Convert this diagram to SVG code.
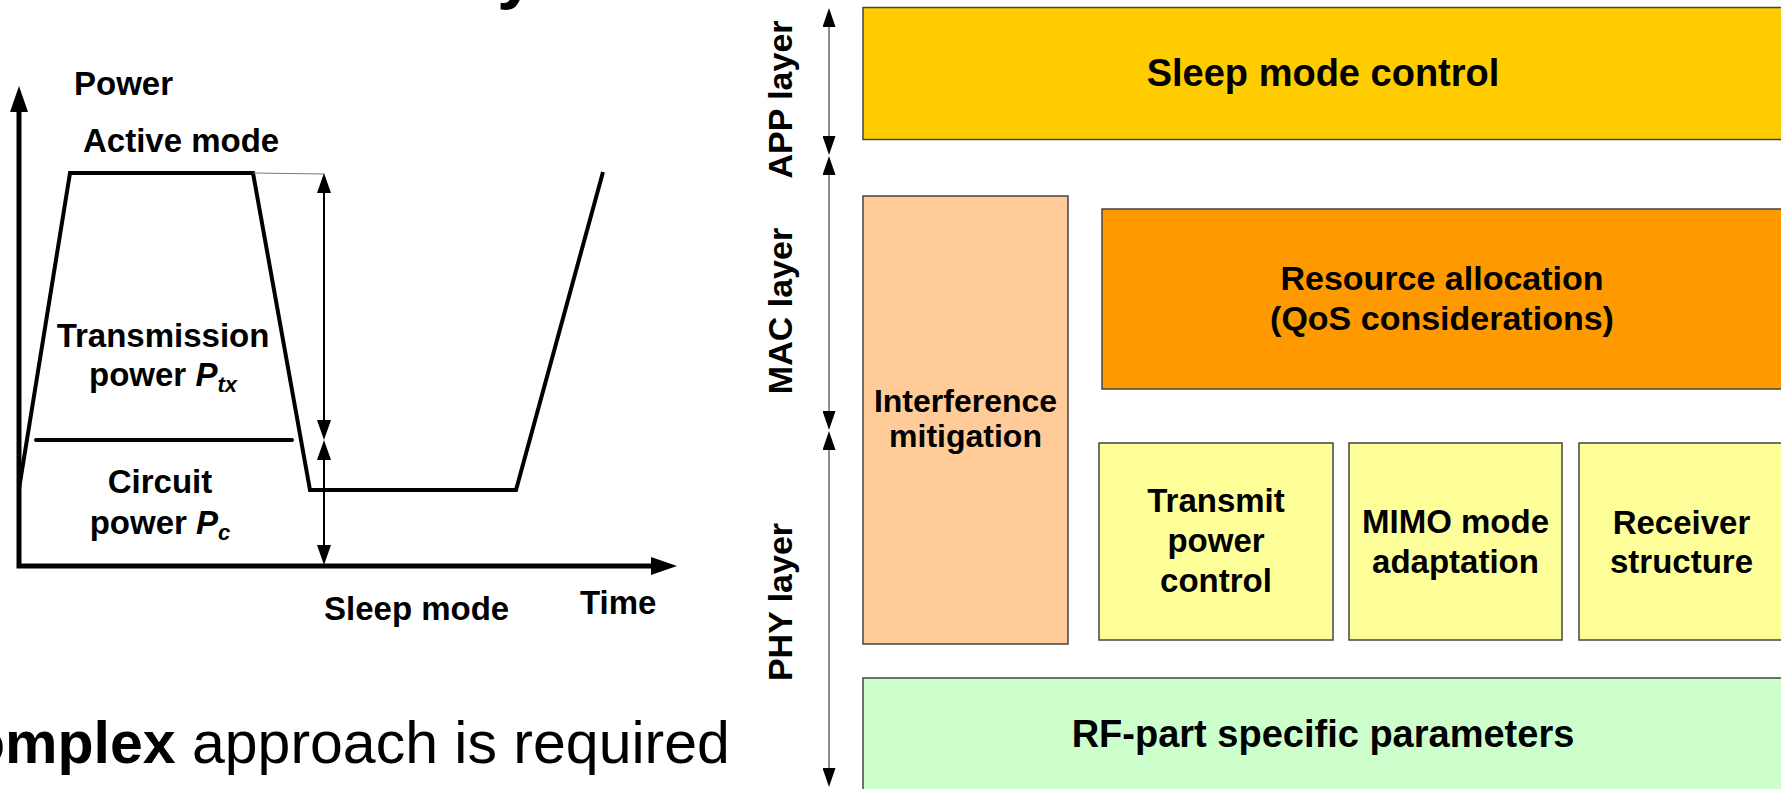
<svg xmlns="http://www.w3.org/2000/svg" width="1781" height="789" viewBox="0 0 1781 789">
  <style>
    text { font-family: "Liberation Sans", Arial, sans-serif; font-weight: bold; fill: #000; }
    .lbl { font-size: 33px; }
    .mid { text-anchor: middle; }
    .big { font-size: 38px; }
    .box { stroke: #444; stroke-width: 1.5; }
    .curve { fill: none; stroke: #000; stroke-width: 4; stroke-linejoin: miter; }
    .axis { fill: none; stroke: #000; stroke-width: 5; stroke-linejoin: miter; }
    .dim { stroke: #000; stroke-width: 2; }
    .layer { stroke: #666; stroke-width: 1.5; }
  </style>
  <defs>
    <marker id="ah-axis" viewBox="0 0 26 18" refX="10" refY="9" markerWidth="26" markerHeight="18" markerUnits="userSpaceOnUse" orient="auto-start-reverse">
      <path d="M0,0 L26,9 L0,18 z" fill="#000"/>
    </marker>
    <marker id="ah-dim" viewBox="0 0 20 14" refX="16" refY="7" markerWidth="20" markerHeight="14" markerUnits="userSpaceOnUse" orient="auto-start-reverse">
      <path d="M0,0 L20,7 L0,14 z" fill="#000"/>
    </marker>
    <marker id="ah-layer" viewBox="0 0 19 13" refX="16" refY="6.5" markerWidth="19" markerHeight="13" markerUnits="userSpaceOnUse" orient="auto-start-reverse">
      <path d="M0,0 L19,6.5 L0,13 z" fill="#000"/>
    </marker>
  </defs>

  <rect width="1781" height="789" fill="#fff"/>

  <!-- clipped tail of the slide heading above -->
  <text x="497" y="-5" style="font-size:70px">y</text>

  <!-- power profile over time -->
  <g id="power-chart">
    <path class="axis" d="M19,102 L19,566 L661,566" marker-start="url(#ah-axis)" marker-end="url(#ah-axis)"/>
    <polyline class="curve" points="19,489 70,173 253,173 310,490 516,490 603,172"/>
    <line x1="36" y1="440" x2="292" y2="440" stroke="#000" stroke-width="4" stroke-linecap="round"/>
    <line x1="253" y1="173" x2="324" y2="174" stroke="#777" stroke-width="1"/>
  </g>

  <g id="chart-labels">
    <text class="lbl" x="74" y="95">Power</text>
    <text class="lbl" x="83" y="152">Active mode</text>
    <text class="lbl mid" x="163" y="347">Transmission</text>
    <text class="lbl mid" x="163" y="386">power <tspan font-style="italic">P</tspan><tspan font-style="italic" font-size="22" dy="6">tx</tspan></text>
    <text class="lbl mid" x="160" y="493">Circuit</text>
    <text class="lbl mid" x="160" y="534">power <tspan font-style="italic">P</tspan><tspan font-style="italic" font-size="22" dy="6">c</tspan></text>
    <text class="lbl" x="324" y="620">Sleep mode</text>
    <text class="lbl" x="580" y="614">Time</text>
  </g>

  <!-- closing statement -->
  <text x="-31" y="763" style="font-size:59px">omplex<tspan font-weight="normal"> approach is required</tspan></text>

  <!-- protocol layer stack -->
  <g id="app-sleep">
    <rect class="box" x="863" y="7.5" width="921" height="132" fill="#FFCC00"/>
    <text class="big mid" x="1323" y="86">Sleep mode control</text>
  </g>
  <g id="mac-resource">
    <rect class="box" x="1102" y="209" width="682" height="180" fill="#FF9900"/>
    <text class="mid" style="font-size:34px" x="1442" y="290">Resource allocation</text>
    <text class="mid" style="font-size:34px" x="1442" y="330">(QoS considerations)</text>
  </g>
  <g id="interference">
    <rect class="box" x="863" y="196" width="205" height="448" fill="#FFCC99"/>
    <text class="mid" style="font-size:32px" x="965.5" y="412">Interference</text>
    <text class="mid" style="font-size:32px" x="965.5" y="447">mitigation</text>
  </g>
  <g id="phy-tpc">
    <rect class="box" x="1099" y="443" width="234" height="197" fill="#FFFF99"/>
    <text class="lbl mid" x="1216" y="512">Transmit</text>
    <text class="lbl mid" x="1216" y="552">power</text>
    <text class="lbl mid" x="1216" y="592">control</text>
  </g>
  <g id="phy-mimo">
    <rect class="box" x="1349" y="443" width="213" height="197" fill="#FFFF99"/>
    <text class="lbl mid" x="1455.5" y="533">MIMO mode</text>
    <text class="lbl mid" x="1455.5" y="573">adaptation</text>
  </g>
  <g id="phy-receiver">
    <rect class="box" x="1579" y="443" width="205" height="197" fill="#FFFF99"/>
    <text class="lbl mid" x="1681.5" y="534">Receiver</text>
    <text class="lbl mid" x="1681.5" y="573">structure</text>
  </g>
  <g id="rf-part">
    <rect class="box" x="863" y="678" width="921" height="120" fill="#CCFFCC"/>
    <text class="big mid" x="1323" y="747">RF-part specific parameters</text>
  </g>

  <g id="layer-labels">
    <text class="mid" style="font-size:34px" transform="translate(792,99.5) rotate(-90)">APP layer</text>
    <text class="mid" style="font-size:34px" transform="translate(792,311) rotate(-90)">MAC layer</text>
    <text class="mid" style="font-size:34px" transform="translate(792,602) rotate(-90)">PHY layer</text>
  </g>

  <g id="connectors">
    <line class="dim" x1="324" y1="177" x2="324" y2="436" marker-start="url(#ah-dim)" marker-end="url(#ah-dim)"/>
    <line class="dim" x1="324" y1="444" x2="324" y2="561" marker-start="url(#ah-dim)" marker-end="url(#ah-dim)"/>
    <line class="layer" x1="829" y1="11" x2="829" y2="152" marker-start="url(#ah-layer)" marker-end="url(#ah-layer)"/>
    <line class="layer" x1="829" y1="159" x2="829" y2="427" marker-start="url(#ah-layer)" marker-end="url(#ah-layer)"/>
    <line class="layer" x1="829" y1="434" x2="829" y2="784" marker-start="url(#ah-layer)" marker-end="url(#ah-layer)"/>
  </g>
</svg>
